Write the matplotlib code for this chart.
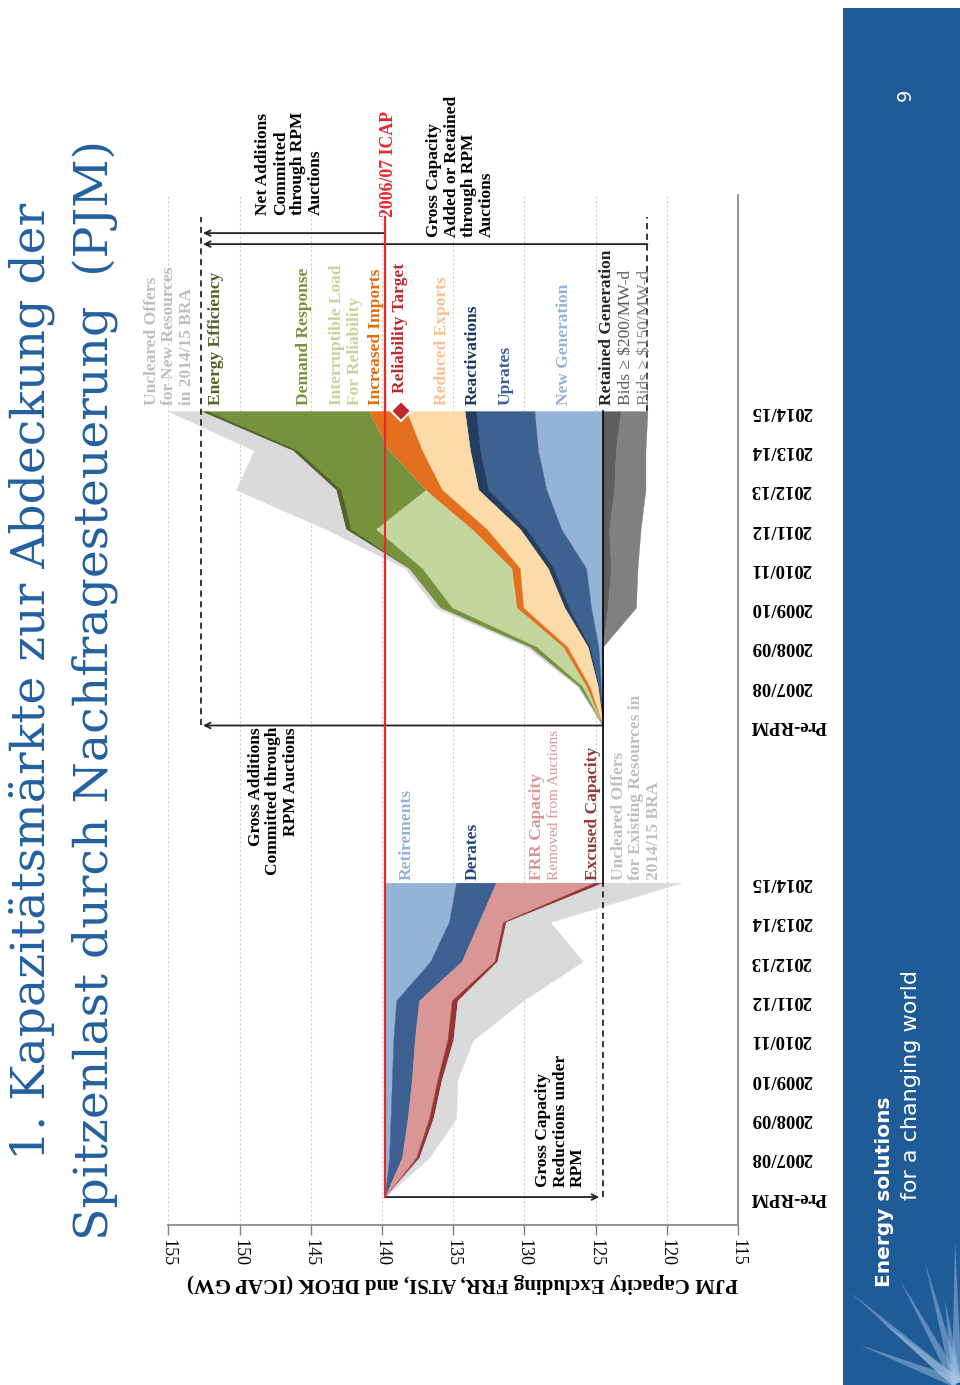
import numpy as np
import matplotlib
matplotlib.use('Agg')
from matplotlib import pyplot as plt

periods = ['Pre-RPM', '2007/08', '2008/09', '2009/10', '2010/11',
           '2011/12', '2012/13', '2013/14', '2014/15']
gw_ticks = [155, 150, 145, 140, 135, 130, 125, 120, 115]

icap_2006 = 139.8           # 2006/07 ICAP (GW)
reliability_target = 138.7  # 2014/15 reliability target (GW)

# gross capacity reductions under RPM (GW)
retirements = [0, 0.3, 0.4, 0.5, 0.6, 0.8, 3.2, 4.5, 5.0]
derates = [0, 0.9, 1.2, 1.4, 1.5, 1.6, 2.2, 2.1, 2.8]
frr_capacity = [0, 1.0, 1.5, 1.8, 2.3, 2.3, 2.3, 1.7, 6.9]
excused = [0, 0.2, 0.3, 0.3, 0.4, 0.4, 0.2, 0.2, 0.6]
uncleared_existing = [0, 0.7, 1.6, 1.1, 1.4, 4.6, 6.0, 3.1, 5.5]

# gross capacity added or retained through RPM auctions (GW)
new_generation = [0, 0.12, 0.31, 0.82, 1.17, 2.92, 3.96, 4.55, 4.8]
uprates = [0, 0.18, 0.59, 1.57, 2.28, 2.44, 4.08, 4.07, 4.1]
reactivations = [0, 0.05, 0.15, 0.3, 0.4, 0.45, 0.7, 0.7, 0.8]
reduced_exports = [0, 0.59, 1.45, 2.9, 1.98, 2.35, 2.56, 3.38, 4.1]
increased_imports = [0, 0.23, 0.3, 0.47, 0.58, 1.05, 1.17, 2.33, 2.67]
interruptible_load = [0, 0.3, 1.86, 4.54, 6.29, 6.75, 0, 0, 0]
demand_response = [0, 0.23, 0.47, 0.82, 0.93, 1.75, 5.93, 6.41, 11.3]
energy_efficiency = [0, 0, 0, 0, 0, 0.35, 0.35, 0.34, 0.45]
uncleared_new = [0, 0.1, 0.23, 0.35, 0.25, 1.4, 7.0, 2.7, 2.3]
retained_200 = [0, 0, 0, 0.35, 0.58, 0.45, 0.81, 0.92, 1.27]
retained_150 = [0, 0, 0, 1.98, 1.86, 2.21, 2.19, 2.08, 1.87]

serif = ['Liberation Serif', 'DejaVu Serif']
plt.rcParams['font.family'] = serif

red_pos = np.arange(len(periods))
add_pos = red_pos + 12

fig = plt.figure(figsize=(9.6, 13.85), dpi=100)
ax = fig.add_axes([168.4 / 960, 1 - 1225 / 1385, (738 - 168.4) / 960, 1030 / 1385])
ax.set_xlim(155, 115)
ax.set_ylim(-0.712, 25.5)

# reductions, stacked down from the 2006/07 ICAP line
red_layers = [retirements, derates, frr_capacity, excused, uncleared_existing]
red_colors = ['#95B3D7', '#3B6091', '#D99694', '#943634', '#D9DADB']
edge = np.full(len(periods), icap_2006)
for vals, col in zip(red_layers, red_colors):
    new = edge - np.array(vals)
    ax.fill_betweenx(red_pos, edge, new, facecolor=col, edgecolor=col, lw=0.3)
    edge = new

base = icap_2006 - sum(v[-1] for v in red_layers[:4])

# additions, stacked up from the base
add_layers = [new_generation, uprates, reactivations, reduced_exports,
              increased_imports, interruptible_load, demand_response,
              energy_efficiency, uncleared_new]
add_colors = ['#95B3D7', '#3D6191', '#243E62', '#FCDBA9', '#E3701F',
              '#C3D69B', '#76923C', '#4F6228', '#D9DADB']
edge = np.full(len(periods), base)
for vals, col in zip(add_layers, add_colors):
    new = edge + np.array(vals)
    ax.fill_betweenx(add_pos, edge, new, facecolor=col, edgecolor=col, lw=0.3)
    edge = new
top = base + sum(v[-1] for v in add_layers[:-1])

edge = np.full(len(periods), base)
for vals, col in zip([retained_200, retained_150], ['#5F5F5F', '#808080']):
    new = edge - np.array(vals)
    ax.fill_betweenx(add_pos, edge, new, facecolor=col, edgecolor=col, lw=0.3)
    edge = new
bottom = edge[-1]

# reference lines and arrows
ax.plot([icap_2006] * 2, [0, 24.94], color='#E8282A', lw=1.6, zorder=5)
ax.plot([base] * 2, [8, 20], color='black', lw=1.2, zorder=5)
ax.plot([base] * 2, [0, 8], color='black', lw=1.1, ls=(0, (4, 3)))
ax.plot([top] * 2, [12, 24.94], color='black', lw=1.1, ls=(0, (4, 3)), clip_on=False)
ax.plot([bottom] * 2, [20, 24.94], color='black', lw=1.1, ls=(0, (4, 3)), clip_on=False)

arrow = dict(arrowstyle='->', color='#222222', lw=1.3, shrinkA=0, shrinkB=0)
ax.annotate('', xy=(base + 0.25, 0), xytext=(icap_2006, 0), arrowprops=arrow)
ax.annotate('', xy=(top - 0.15, 12), xytext=(base, 12), arrowprops=arrow)
ax.annotate('', xy=(top - 0.15, 24.53), xytext=(icap_2006, 24.53), arrowprops=arrow)
ax.annotate('', xy=(top - 0.15, 24.25), xytext=(bottom, 24.25), arrowprops=arrow)

ax.plot(reliability_target, 20, marker='D', ms=10, mfc='#C0272D', mec='white',
        mew=1.5, zorder=7, clip_on=False)

# axes styling
ax.set_xticks(gw_ticks)
ax.set_xticklabels([str(t) for t in gw_ticks], rotation=270, fontsize=13)
ax.tick_params(axis='x', length=7, width=1, color='#808080', pad=3)
ax.yaxis.tick_right()
ax.set_yticks(np.concatenate([red_pos, add_pos]))
ax.set_yticklabels(periods + periods, rotation=180, fontsize=13.5, fontweight='bold')
ax.tick_params(axis='y', length=0, pad=9)
for t in ax.get_yticklabels():
    t.set_va('center')
ax.grid(axis='x', color='#CFCFCF', ls=(0, (2, 2)), lw=0.8)
ax.set_axisbelow(True)
for s in ['left', 'top']:
    ax.spines[s].set_visible(False)
for s in ['bottom', 'right']:
    ax.spines[s].set_color('#8C8C8C')
    ax.spines[s].set_linewidth(1.3)

fig.text(462 / 960, 1 - 1283 / 1385, 'PJM Capacity Excluding FRR, ATSI, and DEOK (ICAP GW)',
         rotation=180, ha='center', va='center', fontsize=15, fontweight='bold')


def label(txt, gw, p, color, weight='bold', size=12.5, va='bottom', ma='left'):
    ax.text(gw, p, txt, rotation=90, ha='center', va=va, color=color,
            fontsize=size, fontweight=weight, multialignment=ma,
            linespacing=1.12, zorder=8, clip_on=False)


# labels above the additions stack
label('Uncleared Offers\nfor New Resources\nin 2014/15 BRA', 154.95, 20.15, '#BFBFBF')
label('Energy Efficiency', 151.66, 20.15, '#4F6228')
label('Demand Response', 145.48, 20.15, '#76923C')
label('Interruptible Load\nFor Reliability', 142.53, 20.15, '#C3D69B')
label('Increased Imports', 140.43, 20.15, '#E46C0A')
label('Reliability Target', 138.73, 20.45, '#C0272D')
label('Reduced Exports', 135.8, 20.15, '#FAC090')
label('Reactivations', 133.63, 20.15, '#17375E')
label('Uprates', 131.34, 20.15, '#376092')
label('New Generation', 127.24, 20.15, '#95B3D7')
label('Retained Generation', 124.22, 20.15, '#262626')
label('Bids ≥ $200/MW-d', 122.88, 20.15, '#595959', weight='normal')
label('Bids ≥ $150/MW-d', 121.55, 20.15, '#7F7F7F', weight='normal')
label('Net Additions\nCommitted\nthrough RPM\nAuctions', 146.5, 24.99, 'black')
label('2006/07 ICAP', 139.52, 24.94, '#E8282A', size=12.8)
label('Gross Capacity\nAdded or Retained\nthrough RPM\nAuctions', 134.5, 24.43, 'black')

# labels above the reductions stack
label('Retirements', 138.26, 8.07, '#95B3D7')
label('Derates', 133.63, 8.07, '#1F497D')
label('FRR Capacity', 129.13, 8.07, '#D99694')
label('Removed from Auctions', 127.9, 8.07, '#D99694', weight='normal', size=11)
label('Excused Capacity', 125.2, 8.07, '#953735')
label('Uncleared Offers\nfor Existing Resources in\n2014/15 BRA', 122.14, 8.07, '#BFBFBF')
label('Gross Additions\nCommitted through\nRPM Auctions', 147.62, 11.96, 'black',
      va='top', ma='right')
label('Gross Capacity\nReductions under\nRPM', 127.45, 0.25, 'black')

# slide title
title_col = '#23609F'
fig.text(32 / 960, 1 - 1160 / 1385, '1. Kapazitätsmärkte zur Abdeckung der',
         rotation=90, ha='center', va='bottom', color=title_col, fontsize=34,
         family='DejaVu Serif')
fig.text(95 / 960, 1 - 1240 / 1385, 'Spitzenlast durch Nachfragesteuerung  (PJM)',
         rotation=90, ha='center', va='bottom', color=title_col, fontsize=34,
         family='DejaVu Serif')

# blue footer band
bx = fig.add_axes([843 / 960, 0, 117 / 960, 1377 / 1385])
bx.set_facecolor('#1F5B96')
bx.set_xlim(0, 117)
bx.set_ylim(0, 1377)
bx.set_xticks([])
bx.set_yticks([])
for s in bx.spines.values():
    s.set_visible(False)
origin = np.array([114.0, 2.0])
for tip in [(7, 93), (17, 40), (37, 65), (57, 105), (82, 123), (102, 85), (112, 145)]:
    d = np.array(tip) - origin
    n = np.array([-d[1], d[0]]) / np.hypot(*d) * 5
    bx.fill([origin[0] + n[0], tip[0], origin[0] - n[0]],
            [origin[1] + n[1], tip[1], origin[1] - n[1]],
            color='#A9C8E8', alpha=0.45, lw=0)

fig.text(885 / 960, 1 - 1287 / 1385, 'Energy solutions', rotation=90, ha='center',
         va='bottom', color='white', fontsize=14.5, fontweight='bold', family='DejaVu Sans')
fig.text(911 / 960, 1 - 1200 / 1385, 'for a changing world', rotation=90, ha='center',
         va='bottom', color='white', fontsize=16, family='DejaVu Sans')
fig.text(905 / 960, 1 - 95 / 1385, '9', rotation=90, ha='center', va='center',
         color='white', fontsize=14, family='DejaVu Sans')

fig.savefig('out.png', dpi=100, facecolor='white')
